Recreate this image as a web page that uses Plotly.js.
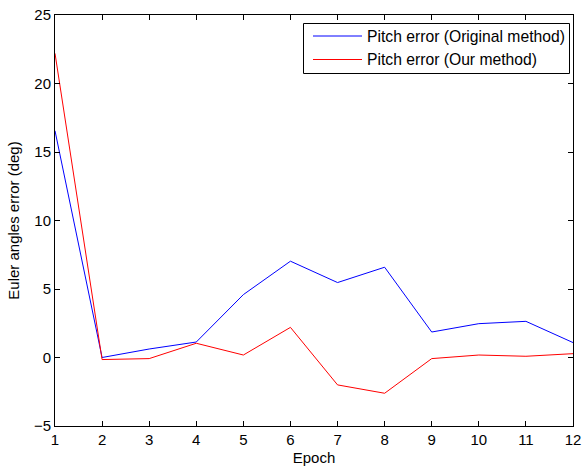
<!DOCTYPE html>
<html>
<head>
<meta charset="utf-8">
<script src="https://cdn.plot.ly/plotly-3.0.1.min.js"></script>
<style>
  html, body { margin: 0; padding: 0; background: #fff; }
  #chart { width: 584px; height: 468px; }
</style>
</head>
<body>
<div id="chart"></div>
<script>
// Epoch numbers
const epochs = [1, 2, 3, 4, 5, 6, 7, 8, 9, 10, 11, 12];
// Pitch error of the original method (deg)
const pitchOriginal = [16.55, 0.0, 0.62, 1.13, 4.59, 7.03, 5.47, 6.59, 1.86, 2.47, 2.64, 1.09];
// Pitch error of our method (deg)
const pitchOurs = [22.2, -0.15, -0.08, 1.04, 0.18, 2.2, -2.0, -2.61, -0.08, 0.18, 0.09, 0.28];
// Series names and colours
const seriesNames = ['Pitch error (Original method)', 'Pitch error (Our method)'];
const seriesColors = ['#0000ff', '#ff0000'];

const fontFamily = 'Arial, "Liberation Sans", sans-serif';
const W = 584, H = 468;
const M = { l: 55, r: 11, t: 15, b: 42 };
const plotW = W - M.l - M.r, plotH = H - M.t - M.b;
// pixel position -> paper fraction
const px = (x) => (x - M.l) / plotW;
const py = (y) => (H - M.b - y) / plotH;

const traces = [pitchOriginal, pitchOurs].map((vals, i) => ({
  x: epochs, y: vals, type: 'scatter', mode: 'lines',
  name: seriesNames[i],
  line: { color: seriesColors[i], width: 1 },
  showlegend: false
}));

// Boxed legend in the upper right corner
const legendBox = { x0: 303.5, x1: 569.5, y0: 23.5, y1: 73.5 };
const rowY = [36, 59.5];
const shapes = [{
  type: 'rect', xref: 'paper', yref: 'paper',
  x0: px(legendBox.x0), x1: px(legendBox.x1), y0: py(legendBox.y1), y1: py(legendBox.y0),
  line: { color: '#000', width: 1 }, fillcolor: '#fff', layer: 'above'
}];
const annotations = [];
seriesNames.forEach((name, i) => {
  shapes.push({
    type: 'line', xref: 'paper', yref: 'paper',
    x0: px(313), x1: px(362), y0: py(rowY[i]), y1: py(rowY[i]),
    line: { color: seriesColors[i], width: 1 }, layer: 'above'
  });
  annotations.push({
    xref: 'paper', yref: 'paper', x: px(364.5), y: py(rowY[i]),
    xanchor: 'left', yanchor: 'middle', showarrow: false,
    text: name, font: { family: fontFamily, size: 15.7, color: '#000' }
  });
});

const axisCommon = {
  showline: true, linecolor: '#000', linewidth: 1, mirror: 'ticks',
  ticks: 'inside', ticklen: 5, tickcolor: '#000', tickwidth: 1,
  showgrid: false, zeroline: false,
  tickfont: { family: fontFamily, size: 15, color: '#000' }
};

const layout = {
  width: W, height: H,
  margin: M,
  paper_bgcolor: '#fff', plot_bgcolor: '#fff',
  font: { family: fontFamily, size: 15, color: '#000' },
  showlegend: false,
  xaxis: Object.assign({}, axisCommon, {
    range: [1, 12], tickmode: 'linear', tick0: 1, dtick: 1,
    title: { text: 'Epoch', standoff: 5, font: { family: fontFamily, size: 15, color: '#000' } }
  }),
  yaxis: Object.assign({}, axisCommon, {
    range: [-5, 25], tickmode: 'linear', tick0: -5, dtick: 5,
    title: { text: 'Euler angles error (deg)', standoff: 10, font: { family: fontFamily, size: 15, color: '#000' } }
  }),
  shapes: shapes,
  annotations: annotations
};

Plotly.newPlot('chart', traces, layout, { staticPlot: true, displayModeBar: false });
</script>
</body>
</html>
